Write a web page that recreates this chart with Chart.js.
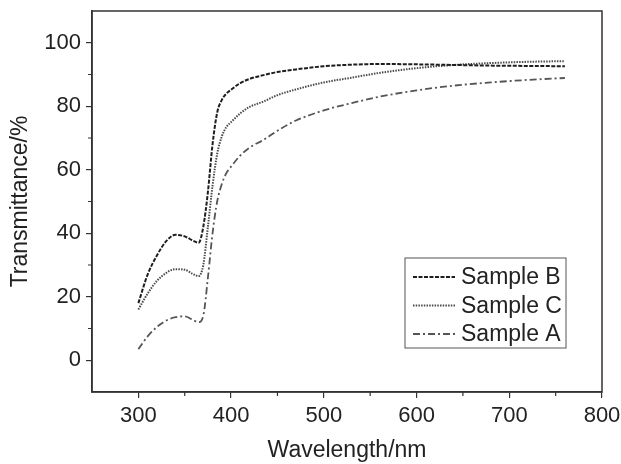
<!DOCTYPE html>
<html>
<head>
<meta charset="utf-8">
<script src="https://cdn.jsdelivr.net/npm/chart.js@4/dist/chart.umd.min.js"></script>
<style>
  html, body { margin: 0; padding: 0; background: #fff; }
  #wrap { width: 621px; height: 464px; }
</style>
</head>
<body>
<div id="wrap"><canvas id="chart"></canvas></div>
<script>
// Wavelength (nm) sample points
const wavelength = [300, 310, 320, 330, 340, 350, 360, 365, 370, 375, 380, 385, 390, 395, 400,
  410, 420, 435, 450, 470, 500, 530, 560, 600, 640, 680, 720, 760];

// Transmittance (%) per sample
const sampleB = [18, 27, 33, 37.5, 39.5, 39, 37.5, 37, 42, 53, 68, 78, 82, 84, 85.2,
  87.3, 88.6, 89.8, 90.8, 91.6, 92.6, 93.1, 93.3, 93.2, 93.0, 92.8, 92.7, 92.6];
const sampleC = [16, 21, 25, 27.5, 28.7, 28.5, 27, 26.5, 30, 42, 55, 65, 70.5, 73.5, 75,
  77.8, 79.8, 81.5, 83.5, 85.3, 87.5, 89, 90.5, 92, 93, 93.6, 94, 94.2];
const sampleA = [3.5, 7.5, 10.5, 12.5, 13.6, 13.8, 12.5, 12, 14, 26, 40, 50, 55.5, 59, 61,
  64.5, 67, 69.4, 72.3, 75.5, 78.7, 81, 83, 85, 86.5, 87.5, 88.3, 88.9];

// Axis ticks
const xTicks = [300, 400, 500, 600, 700, 800];
const xMinorTicks = [350, 450, 550, 650, 750];
const yTicks = [0, 20, 40, 60, 80, 100];
const yMinorTicks = [10, 30, 50, 70, 90];

const legendOrder = ['Sample B', 'Sample C', 'Sample A'];

const axisColor = '#333';
const textColor = '#222';
const fontFamily = '"Liberation Sans", Arial, sans-serif';

function toPoints(ys) {
  return wavelength.map((x, i) => ({ x: x, y: ys[i] }));
}

// frame, minor ticks and the in-plot legend
const framePlugin = {
  id: 'frame',
  afterDraw(chart) {
    const { ctx, chartArea: a, scales } = chart;
    ctx.save();
    ctx.strokeStyle = axisColor;
    ctx.lineWidth = 1.5;
    ctx.strokeRect(a.left, a.top, a.right - a.left, a.bottom - a.top);

    // minor ticks
    ctx.lineWidth = 1.2;
    ctx.beginPath();
    xMinorTicks.forEach(v => {
      const px = scales.x.getPixelForValue(v);
      ctx.moveTo(px, a.bottom);
      ctx.lineTo(px, a.bottom + 4);
    });
    yMinorTicks.forEach(v => {
      const py = scales.y.getPixelForValue(v);
      ctx.moveTo(a.left, py);
      ctx.lineTo(a.left - 4, py);
    });
    ctx.stroke();

    // legend box
    const bx = a.right - 197, by = a.top + 247, bw = 161, bh = 90;
    ctx.fillStyle = '#fff';
    ctx.fillRect(bx, by, bw, bh);
    ctx.strokeStyle = '#555';
    ctx.lineWidth = 1;
    ctx.strokeRect(bx, by, bw, bh);

    ctx.font = '23px ' + fontFamily;
    ctx.textBaseline = 'middle';
    ctx.textAlign = 'left';
    legendOrder.forEach((name, i) => {
      const ds = chart.data.datasets.find(d => d.label === name);
      const ry = by + 19 + i * 28.5;
      ctx.strokeStyle = ds.borderColor;
      ctx.lineWidth = ds.borderWidth;
      ctx.setLineDash(ds.borderDash);
      ctx.beginPath();
      ctx.moveTo(bx + 8, ry);
      ctx.lineTo(bx + 50, ry);
      ctx.stroke();
      ctx.setLineDash([]);
      ctx.fillStyle = textColor;
      ctx.fillText(name, bx + 56, ry + 1);
    });
    ctx.restore();
  }
};

const tickFont = { family: fontFamily, size: 22 };

new Chart(document.getElementById('chart'), {
  type: 'line',
  data: {
    datasets: [
      {
        label: 'Sample B',
        data: toPoints(sampleB),
        borderColor: '#1e1e1e',
        borderWidth: 2,
        borderDash: [4, 1.5],
        pointRadius: 0,
        fill: false,
        cubicInterpolationMode: 'monotone'
      },
      {
        label: 'Sample C',
        data: toPoints(sampleC),
        borderColor: '#4a4a4a',
        borderWidth: 2,
        borderDash: [1.5, 1.2],
        pointRadius: 0,
        fill: false,
        cubicInterpolationMode: 'monotone'
      },
      {
        label: 'Sample A',
        data: toPoints(sampleA),
        borderColor: '#555',
        borderWidth: 1.8,
        borderDash: [7, 3, 2, 3],
        pointRadius: 0,
        fill: false,
        cubicInterpolationMode: 'monotone'
      }
    ]
  },
  options: {
    responsive: true,
    maintainAspectRatio: false,
    animation: false,
    layout: { padding: { left: 0, right: 19, top: 11, bottom: 0 } },
    plugins: {
      legend: { display: false },
      tooltip: { enabled: false }
    },
    scales: {
      x: {
        type: 'linear',
        min: 250,
        max: 800,
        afterBuildTicks: scale => { scale.ticks = xTicks.map(v => ({ value: v })); },
        afterFit: scale => {
          scale.height = 72;
          scale.paddingLeft = 0;
          scale.paddingRight = 0;
        },
        grid: { drawOnChartArea: false, drawTicks: true, tickLength: 6, color: axisColor, lineWidth: 1.2 },
        border: { color: axisColor, width: 1.5 },
        ticks: { font: tickFont, color: textColor, padding: 5, maxRotation: 0 },
        title: {
          display: true,
          text: 'Wavelength/nm',
          font: { family: fontFamily, size: 23 },
          color: textColor,
          padding: { top: 0, bottom: 0 }
        }
      },
      y: {
        min: -10,
        max: 110,
        afterBuildTicks: scale => { scale.ticks = yTicks.map(v => ({ value: v })); },
        afterFit: scale => {
          scale.width = 92;
          scale.paddingTop = 0;
          scale.paddingBottom = 0;
        },
        grid: { drawOnChartArea: false, drawTicks: true, tickLength: 6, color: axisColor, lineWidth: 1.2 },
        border: { color: axisColor, width: 1.5 },
        ticks: { font: tickFont, color: textColor, padding: 5 },
        title: {
          display: true,
          text: 'Transmittance/%',
          font: { family: fontFamily, size: 23 },
          color: textColor,
          padding: { top: 7, bottom: 0 }
        }
      }
    }
  },
  plugins: [framePlugin]
});
</script>
</body>
</html>
